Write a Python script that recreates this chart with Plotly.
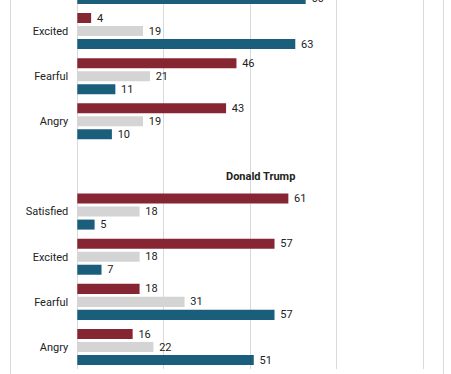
import plotly.graph_objects as go

# ---- data ----
emotions = ["Satisfied", "Excited", "Fearful", "Angry"]
candidates = ["Hillary Clinton", "Donald Trump"]
series_names = ["Trump supporters", "Other voters", "Clinton supporters"]
series_colors = ["#862633", "#d4d4d4", "#1a5e7c"]

clinton_trump_supp = [None, 4, 46, 43]
clinton_other = [None, 19, 21, 19]
clinton_clinton_supp = [66, 63, 11, 10]

trump_trump_supp = [61, 57, 18, 16]
trump_other = [18, 18, 31, 22]
trump_clinton_supp = [5, 7, 57, 51]

x_ticks = [0, 25, 50, 75, 100]

# ---- build positions: group index per row, spacer row between candidates ----
n = len(emotions)
pos_clinton = list(range(n))
spacer = n
pos_trump = [spacer + 1 + i for i in range(n)]
positions = pos_clinton + pos_trump

series_values = [
    clinton_trump_supp + trump_trump_supp,
    clinton_other + trump_other,
    clinton_clinton_supp + trump_clinton_supp,
]

fig = go.Figure()
for name, color, vals in zip(series_names, series_colors, series_values):
    fig.add_trace(go.Bar(
        y=positions, x=vals, orientation="h", name=name,
        marker=dict(color=color, line=dict(width=0)),
        text=[("" if v is None else str(v)) for v in vals],
        texttemplate=" %{text}",
        textposition="outside",
        constraintext="none",
        textfont=dict(family="Roboto", size=11, color="#222222"),
        cliponaxis=True,
        showlegend=False,
        hoverinfo="skip",
    ))

x_min, x_max = -19.45, 105.98
fig.update_layout(
    width=451, height=374,
    margin=dict(l=10, r=7, t=0, b=5),
    paper_bgcolor="white", plot_bgcolor="white",
    barmode="group", bargap=0.136, bargroupgap=0.23,
    font=dict(family="Roboto", size=11, color="#222222"),
)
fig.update_xaxes(
    range=[x_min, x_max], tickvals=x_ticks, showticklabels=False,
    showgrid=True, gridcolor="#d9d9d9", gridwidth=1,
    zeroline=True, zerolinecolor="#d9d9d9", zerolinewidth=1,
    showline=False, fixedrange=True,
)
fig.update_yaxes(
    range=[8.487, 0.313],
    anchor="free", position=(0 - x_min) / (x_max - x_min),
    tickvals=positions, ticktext=emotions + emotions,
    showgrid=False, zeroline=False, showline=False,
    ticks="", ticklabelstandoff=9,
    tickfont=dict(family="Roboto", size=11, color="#222222"),
)

# candidate header for the second panel
fig.add_annotation(
    x=((0 - x_min) / (x_max - x_min) + 1) / 2, xref="paper",
    y=spacer + 0.23, yref="y",
    text="<b>" + candidates[1] + "</b>", showarrow=False,
    font=dict(family="Roboto", size=11, color="#222222"),
    xanchor="center", yanchor="middle",
)

# outer frame lines of the original panel
for xv in [x_min + 0.15, x_max - 0.15]:
    fig.add_shape(type="line", xref="x", yref="paper",
                  x0=xv, x1=xv, y0=-0.02, y1=1.0,
                  line=dict(color="#d9d9d9", width=1))

fig.write_html("out.html", config={"displayModeBar": False},
               post_script="document.body.style.margin='0';")
